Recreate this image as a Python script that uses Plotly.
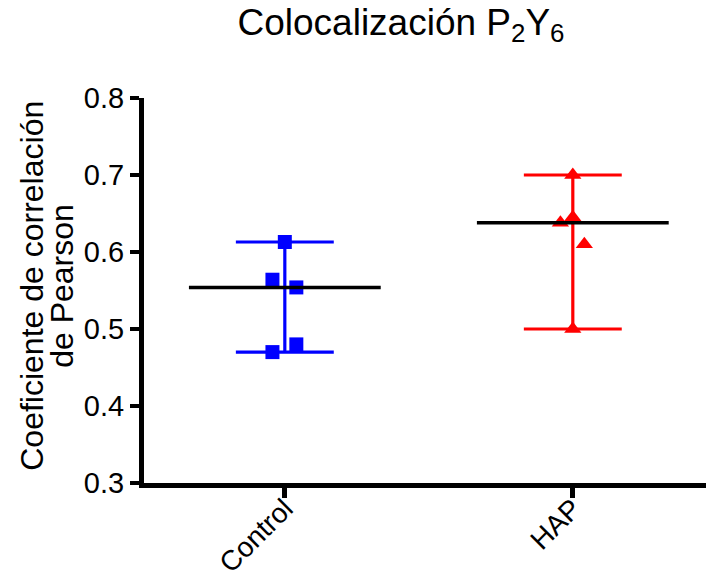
import numpy as np
import plotly.graph_objects as go

# Groups and individual Pearson coefficients
groups = ["Control", "HAP"]
control_vals = [0.613, 0.564, 0.554, 0.470, 0.480]
control_jitter = [0.0, -0.043, 0.040, -0.043, 0.040]
hap_vals = [0.700, 0.645, 0.638, 0.610, 0.500]
hap_jitter = [0.0, 0.0, -0.043, 0.040, 0.0]
y_ticks = [0.3, 0.4, 0.5, 0.6, 0.7, 0.8]
y_title_lines = ["Coeficiente de correlación", "de Pearson"]

colors = ["#0000FF", "#FF0000"]
symbols = ["square", "triangle-up"]
sizes = [14, 15]
FONT = "Liberation Sans, Arial, sans-serif"

series = [(control_vals, control_jitter), (hap_vals, hap_jitter)]

fig = go.Figure()

cap_hw = 0.17     # half width of range caps (x units)
med_hw = 0.333    # half width of median line (x units)

for i, (vals, jit) in enumerate(series):
    v = np.array(vals)
    lo, hi = v.min(), v.max()
    # range bar: vertical stem + caps
    xs = [i, i, None, i - cap_hw, i + cap_hw, None, i - cap_hw, i + cap_hw]
    ys = [lo, hi, None, lo, lo, None, hi, hi]
    fig.add_trace(go.Scatter(x=xs, y=ys, mode="lines",
                             line=dict(color=colors[i], width=3.2),
                             hoverinfo="skip", showlegend=False))
    # individual points
    fig.add_trace(go.Scatter(x=[i + j for j in jit], y=vals, mode="markers",
                             marker=dict(symbol=symbols[i], size=sizes[i],
                                         color=colors[i], line=dict(width=0)),
                             showlegend=False))

# median lines on top
for i, (vals, jit) in enumerate(series):
    med = float(np.median(vals))
    fig.add_trace(go.Scatter(x=[i - med_hw, i + med_hw], y=[med, med],
                             mode="lines", line=dict(color="black", width=3.5),
                             hoverinfo="skip", showlegend=False))

# two-line rotated y-axis title, with tighter line spacing
for xpos, line in zip([-0.1995, -0.1460], y_title_lines):
    fig.add_annotation(text=line, textangle=-90, showarrow=False,
                       xref="paper", yref="paper", x=xpos, y=0.512,
                       xanchor="center", yanchor="middle",
                       font=dict(size=32, family=FONT, color="black"))

fig.update_layout(
    width=706, height=580,
    paper_bgcolor="white", plot_bgcolor="white",
    margin=dict(l=144, r=0, t=98, b=97),
    font=dict(family=FONT, color="black"),
    title=dict(text="Colocalización P<sub>2</sub>Y<sub>6</sub>",
               font=dict(size=37, family=FONT, color="black"),
               x=0.568, xanchor="center", xref="container",
               y=0.985, yanchor="top", yref="container"),
)

fig.update_xaxes(
    range=[-0.489, 1.4625], automargin=False,
    tickvals=[0, 1], ticktext=groups, tickangle=-45,
    tickfont=dict(size=28, family=FONT, color="black"),
    ticklabelstandoff=-17,
    showline=True, linecolor="black", linewidth=5,
    ticks="outside", ticklen=10, tickwidth=5, tickcolor="black",
    showgrid=False, zeroline=False,
)

fig.update_yaxes(
    range=[0.3, 0.8], automargin=False,
    tickvals=y_ticks, ticktext=[f"{t:.1f}" for t in y_ticks],
    tickfont=dict(size=29, family=FONT, color="black"),
    showline=True, linecolor="black", linewidth=5,
    ticks="outside", ticklen=9, tickwidth=4, tickcolor="black",
    showgrid=False, zeroline=False,
)

fig.write_html("out.html")
